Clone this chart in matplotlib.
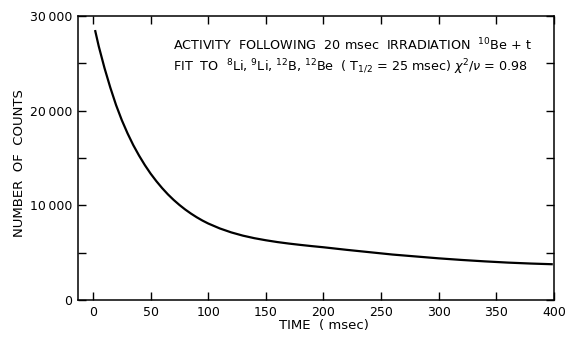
import matplotlib
matplotlib.use("Agg")
import matplotlib.pyplot as plt
from matplotlib.ticker import MultipleLocator, FixedLocator

# Data
time_ms = [2, 5, 10, 15, 20, 25, 30, 35, 40, 45, 50, 55, 60, 65, 70, 75, 80, 85, 90, 95,
           100, 110, 120, 130, 140, 150, 160, 170, 180, 190, 200, 220, 240, 260, 280,
           300, 320, 340, 360, 380, 398]
counts = [28400, 26800, 24500, 22450, 20600, 19000, 17600, 16350, 15250, 14250, 13350,
          12550, 11820, 11160, 10570, 10040, 9560, 9130, 8740, 8390,
          8080, 7560, 7140, 6800, 6530, 6310, 6120, 5960, 5820, 5690, 5570, 5300, 5050,
          4800, 4600, 4400, 4230, 4080, 3950, 3850, 3780]

x_ticks = [0, 50, 100, 150, 200, 250, 300, 350, 400]
y_ticks = [0, 10000, 20000, 30000]
y_tick_labels = ["0", "10\u2009000", "20\u2009000", "30\u2009000"]

line1 = r"ACTIVITY  FOLLOWING  20 msec  IRRADIATION  $^{10}$Be + t"
line2 = (r"FIT  TO  $^{8}$Li, $^{9}$Li, $^{12}$B, $^{12}$Be  ( T$_{1/2}$ = 25 msec) "
         r"$\chi^{2}/\nu$ = 0.98")

plt.rcParams['font.family'] = ['DejaVu Sans']
plt.rcParams['mathtext.fontset'] = 'dejavusans'

W, H = 568, 339
fig = plt.figure(figsize=(W / 100, H / 100), dpi=100)
ax = fig.add_axes([78 / W, 1 - 300 / H, (554 - 78) / W, (300 - 16) / H])

ax.plot(time_ms, counts, color='black', lw=1.6, solid_joinstyle='round')

ax.set_xlim(-13, 400)
ax.set_ylim(0, 30000)
ax.xaxis.set_major_locator(FixedLocator(x_ticks))
ax.set_yticks(y_ticks)
ax.set_yticklabels(y_tick_labels)
ax.yaxis.set_minor_locator(MultipleLocator(5000))
ax.tick_params(which='both', direction='in', top=True, right=True,
               length=6, width=1.0, labelsize=9, pad=4)
ax.tick_params(axis='y', which='major', labelright=False)
for s in ax.spines.values():
    s.set_linewidth(1.1)

fig.text(173 / W, 1 - 45 / H, line1, fontsize=9.2, ha='left', va='center')
fig.text(173 / W, 1 - 67 / H, line2, fontsize=9.2, ha='left', va='center')

fig.text(20 / W, 1 - 163 / H, "NUMBER  OF  COUNTS", rotation=90, fontsize=9.5,
         ha='center', va='center')
fig.text(324 / W, 1 - 326 / H, "TIME  ( msec)", fontsize=9.5, ha='center', va='center')

fig.savefig("out.png", dpi=100)
